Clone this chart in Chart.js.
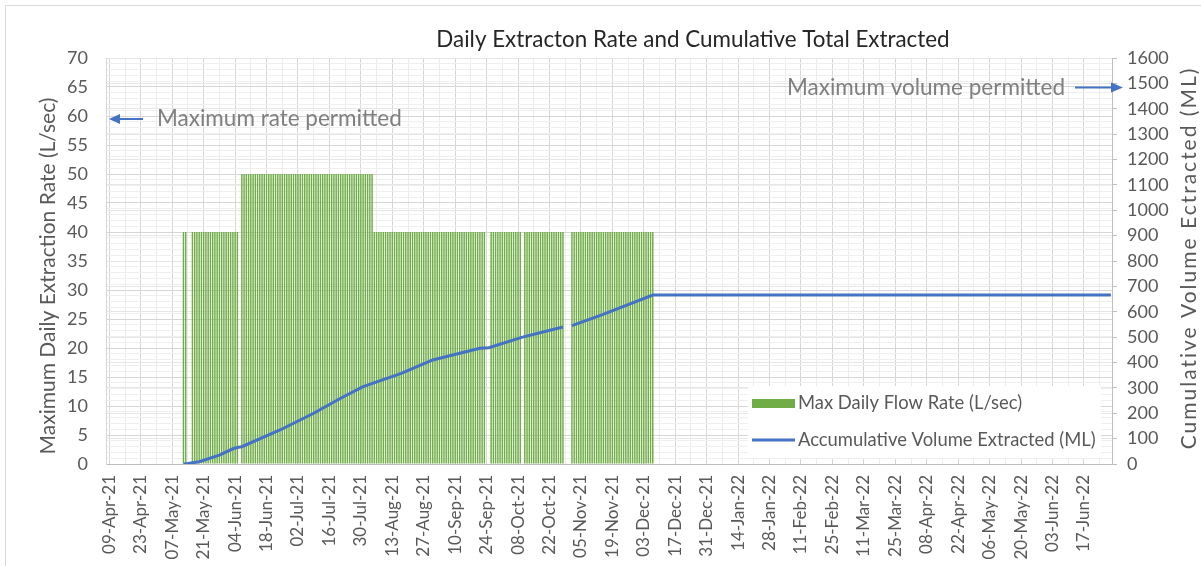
<!DOCTYPE html>
<html>
<head>
<meta charset="utf-8">
<script src="https://cdn.jsdelivr.net/npm/chart.js@4/dist/chart.umd.min.js"></script>
<style>
  html, body { margin: 0; padding: 0; background: #ffffff; }
  #c { display: block; }
</style>
</head>
<body>
<canvas id="c" width="1201" height="566"></canvas>
<script>
// ---------------- DATA ----------------
const chartTitle = 'Daily Extracton Rate and Cumulative Total Extracted';
const axisStart = '2021-04-08';   // first category (daily axis)
const axisDays = 448;             // 08-Apr-21 .. 29-Jun-22

const tickLabels = ['09-Apr-21','23-Apr-21','07-May-21','21-May-21','04-Jun-21','18-Jun-21',
  '02-Jul-21','16-Jul-21','30-Jul-21','13-Aug-21','27-Aug-21','10-Sep-21','24-Sep-21',
  '08-Oct-21','22-Oct-21','05-Nov-21','19-Nov-21','03-Dec-21','17-Dec-21','31-Dec-21',
  '14-Jan-22','28-Jan-22','11-Feb-22','25-Feb-22','11-Mar-22','25-Mar-22','08-Apr-22',
  '22-Apr-22','06-May-22','20-May-22','03-Jun-22','17-Jun-22'];

// Max daily flow rate (L/sec), one value per day from 12-May-21 to 07-Dec-21
const flowStartDate = '12-May-21';
const flowRate = [
  40,40,null,null,
  40,40,40,40,40,40,40,40,40,40,40,40,40,40,40,40,40,40,40,40,40,
  null,
  50,50,50,50,50,50,50,50,50,50,50,50,50,50,50,50,50,50,50,50,
  50,50,50,50,50,50,50,50,50,50,50,50,50,50,50,50,50,50,50,50,
  50,50,50,50,50,50,50,50,50,50,50,50,50,50,50,50,50,50,50,
  40,40,40,40,40,40,40,40,40,40,40,40,40,40,40,40,40,40,40,40,40,40,40,40,40,
  40,40,40,40,40,40,40,40,40,40,40,40,40,40,40,40,40,40,40,40,40,40,40,40,40,
  null,null,
  40,40,40,40,40,40,40,40,40,40,40,40,40,40,
  null,
  40,40,40,40,40,40,40,40,40,40,40,40,40,40,40,40,40,40,
  null,null,null,
  40,40,40,40,40,40,40,40,40,40,40,40,40,40,40,40,40,40,40,
  40,40,40,40,40,40,40,40,40,40,40,40,40,40,40,40,40,40
];

// Accumulative volume extracted (ML)
const volumeDates = ['12-May-21','14-May-21','19-May-21','28-May-21','03-Jun-21','05-Jun-21',
  '07-Jun-21','24-Jun-21','09-Jul-21','21-Jul-21','31-Jul-21','17-Aug-21','31-Aug-21',
  '21-Sep-21','25-Sep-21','10-Oct-21','28-Oct-21','29-Oct-21','01-Nov-21','14-Nov-21',
  '07-Dec-21','29-Jun-22'];
const volumeML = [0,2,9,35,60,65,
  68,134,200,259,305,357,410,
  456,458,500,540,null,545,587,
  666,666];

const seriesNames = ['Max Daily Flow Rate (L/sec)', 'Accumulative Volume Extracted (ML)'];

// ---------------- BUILD ----------------
const MONTHS = ['Jan','Feb','Mar','Apr','May','Jun','Jul','Aug','Sep','Oct','Nov','Dec'];
function fmt(d) {
  const dd = String(d.getUTCDate()).padStart(2, '0');
  const yy = String(d.getUTCFullYear()).slice(2);
  return dd + '-' + MONTHS[d.getUTCMonth()] + '-' + yy;
}
const categories = [];
{
  const t0 = Date.parse(axisStart + 'T00:00:00Z');
  for (let i = 0; i < axisDays; i++) categories.push(fmt(new Date(t0 + i * 86400000)));
}
const flowStartIdx = categories.indexOf(flowStartDate);
const flowData = flowRate.map((v, i) => ({ x: categories[flowStartIdx + i], y: v }));
const volumeData = volumeDates.map((d, i) => ({ x: d, y: volumeML[i] }));
const tickSet = new Set(tickLabels);
const tickBase = categories.indexOf(tickLabels[0]);

const FONT = 'Lato, "Open Sans", sans-serif';
const GRAY = '#595959';

const overlay = {
  id: 'overlay',
  beforeDraw(chart) {
    const c = chart.ctx;
    c.save();
    c.strokeStyle = '#D9D9D9';
    c.lineWidth = 1;
    c.beginPath();
    c.moveTo(5.5, 566); c.lineTo(5.5, 5.5); c.lineTo(1201, 5.5);
    c.stroke();
    c.restore();
  },
  afterDraw(chart) {
    const c = chart.ctx;
    const ys = chart.scales.y, y1 = chart.scales.y1;
    c.save();
    // chart title
    c.fillStyle = '#262626';
    c.textAlign = 'center';
    c.textBaseline = 'middle';
    c.font = '22.4px ' + FONT;
    c.fillText(chartTitle, 693, 40);

    // axis titles
    c.fillStyle = GRAY;
    c.font = '21px ' + FONT;
    c.save();
    c.translate(48, 276);
    c.rotate(-Math.PI / 2);
    c.fillText('Maximum Daily Extraction Rate (L/sec)', 0, 0);
    c.restore();
    c.save();
    c.translate(1189, 258);
    c.rotate(-Math.PI / 2);
    c.font = '21px ' + FONT;
    c.letterSpacing = '2px';
    c.fillText('Cumulative Volume Ectracted (ML)', 0, 0);
    c.restore();

    // annotations
    const blue = '#4472C4';
    const yA = ys.getPixelForValue(60) + 3;
    c.strokeStyle = blue; c.fillStyle = blue; c.lineWidth = 2;
    c.beginPath(); c.moveTo(143, yA); c.lineTo(118, yA); c.stroke();
    c.beginPath(); c.moveTo(109, yA); c.lineTo(120, yA - 5); c.lineTo(120, yA + 5); c.closePath(); c.fill();
    const yB = y1.getPixelForValue(1500) + 4;
    c.beginPath(); c.moveTo(1075, yB); c.lineTo(1112, yB); c.stroke();
    c.beginPath(); c.moveTo(1123, yB); c.lineTo(1111, yB - 5); c.lineTo(1111, yB + 5); c.closePath(); c.fill();
    c.fillStyle = '#7F7F7F';
    c.font = '22.5px ' + FONT;
    c.textAlign = 'left';
    c.fillText('Maximum rate permitted', 157, yA);
    c.fillText('Maximum volume permitted', 787, yB);

    // legend
    c.fillStyle = '#ffffff';
    c.fillRect(748, 386, 353, 72);
    c.fillStyle = '#70AD47';
    c.fillRect(752, 399, 43, 9);
    c.strokeStyle = blue; c.lineWidth = 3;
    c.beginPath(); c.moveTo(752, 440); c.lineTo(795, 440); c.stroke();
    c.fillStyle = GRAY;
    c.font = '18.4px ' + FONT;
    c.textBaseline = 'middle';
    c.fillText(seriesNames[0], 798, 403);
    c.fillText(seriesNames[1], 798, 440);
    c.restore();
  }
};

new Chart(document.getElementById('c'), {
  type: 'bar',
  data: {
    labels: categories,
    datasets: [
      {
        type: 'line',
        label: seriesNames[1],
        data: volumeData,
        yAxisID: 'y1',
        borderColor: '#4472C4',
        borderWidth: 3,
        pointRadius: 0,
        tension: 0,
        spanGaps: false,
        order: 0
      },
      {
        type: 'bar',
        label: seriesNames[0],
        data: flowData,
        yAxisID: 'y',
        backgroundColor: '#70AD47',
        borderWidth: 0,
        barPercentage: 0.65,
        categoryPercentage: 1,
        order: 1
      }
    ]
  },
  options: {
    responsive: false,
    devicePixelRatio: 1,
    animation: false,
    layout: { padding: { top: 58, left: 0, right: 0, bottom: 0 } },
    plugins: {
      legend: { display: false },
      tooltip: { enabled: false },
      title: { display: false }
    },
    scales: {
      x: {
        offset: true,
        grid: {
          offset: false,
          drawTicks: false,
          color: (ctx) => {
            const k = ctx.index - tickBase;
            if (k % 14 === 0) return '#D6D6D6';
            if (k % 7 === 0) return '#ECECEC';
            return 'rgba(0,0,0,0)';
          }
        },
        border: { color: '#BFBFBF' },
        ticks: {
          autoSkip: false,
          maxRotation: 90,
          minRotation: 90,
          padding: 11,
          color: GRAY,
          font: { family: FONT, size: 17 },
          callback: function (v, i) {
            const lab = categories[i];
            return tickSet.has(lab) ? lab : '';
          }
        },
        afterFit: (s) => { s.height = 102; }
      },
      y: {
        position: 'left',
        min: 0, max: 70,
        grid: {
          drawTicks: false,
          color: (ctx) => (ctx.tick && ctx.tick.value % 5 === 0) ? '#D6D6D6' : '#EFEFEF'
        },
        border: { color: '#D6D6D6' },
        ticks: {
          stepSize: 1,
          autoSkip: false,
          padding: 18,
          color: GRAY,
          font: { family: FONT, size: 18 },
          callback: (v) => (v % 5 === 0 ? String(v) : '')
        },
        afterFit: (s) => { s.width = 106; }
      },
      y1: {
        position: 'right',
        min: 0, max: 1600,
        grid: {
          drawOnChartArea: true,
          color: '#E6E6E6',
          tickColor: '#BFBFBF',
          tickLength: 5
        },
        border: { color: '#BFBFBF' },
        ticks: {
          stepSize: 100,
          padding: 10,
          color: GRAY,
          font: { family: FONT, size: 18 },
          callback: (v) => String(v)
        },
        afterFit: (s) => { s.width = 89; }
      }
    }
  },
  plugins: [overlay]
});
</script>
</body>
</html>
